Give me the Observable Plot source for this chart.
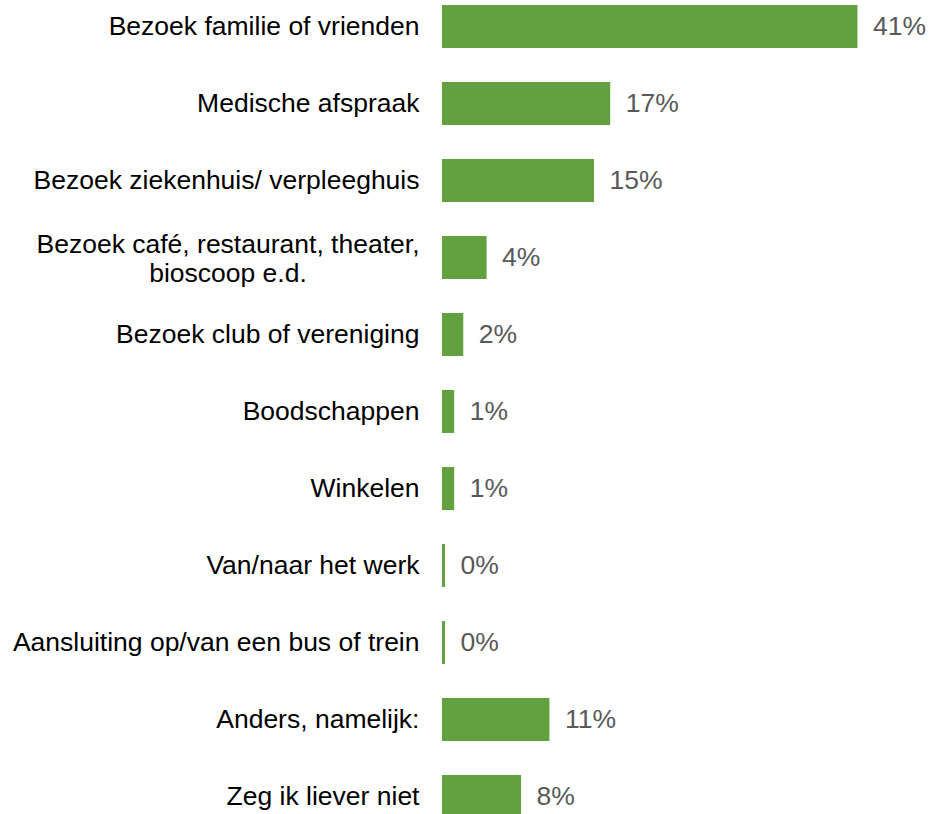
<!DOCTYPE html>
<html>
<head>
<meta charset="utf-8">
<script src="https://cdn.jsdelivr.net/npm/d3@7"></script>
<script src="https://cdn.jsdelivr.net/npm/@observablehq/plot@0.6"></script>
<style>
  html, body { margin: 0; padding: 0; background: #fff; overflow: hidden; }
  #chart svg { display: block; }
</style>
</head>
<body>
<div id="chart"></div>
<script>
const categories = [
  "Bezoek familie of vrienden",
  "Medische afspraak",
  "Bezoek ziekenhuis/ verpleeghuis",
  "Bezoek café, restaurant, theater,\nbioscoop e.d.",
  "Bezoek club of vereniging",
  "Boodschappen",
  "Winkelen",
  "Van/naar het werk",
  "Aansluiting op/van een bus of trein",
  "Anders, namelijk:",
  "Zeg ik liever niet"
];
const values = [41.0, 16.6, 15.0, 4.4, 2.1, 1.2, 1.2, 0.3, 0.3, 10.6, 7.8];

const data = categories.map((c, i) => ({cat: c, value: values[i]}));

const FONT = "'Liberation Sans', Arial, sans-serif";
const FS = 26.5;

// measure the longest line of multi-line labels so they can be centred as a block
const canvas = document.createElement("canvas");
const ctx = canvas.getContext("2d");
ctx.font = `${FS}px ${FONT}`;
const maxLineWidth = s => Math.max(...s.split("\n").map(l => ctx.measureText(l).width));

const single = data.filter(d => !d.cat.includes("\n"));
const multi = data.filter(d => d.cat.includes("\n"));
const labelGap = 23;

const marks = [
  Plot.barX(data, {x: "value", y: "cat", fill: "#63A03F"}),
  Plot.text(data, {
    x: "value", y: "cat",
    text: d => Math.round(d.value) + "%",
    textAnchor: "start", dx: 15,
    fill: "#595959", fontSize: FS, fontFamily: FONT
  }),
  Plot.text(single, {
    y: "cat", frameAnchor: "left", text: "cat",
    textAnchor: "end", dx: -labelGap,
    fill: "#000", fontSize: FS, fontFamily: FONT
  })
];
for (const d of multi) {
  marks.push(Plot.text([d], {
    y: "cat", frameAnchor: "left", text: "cat",
    textAnchor: "middle", dx: -labelGap - maxLineWidth(d.cat) / 2,
    lineHeight: 1.12,
    fill: "#000", fontSize: FS, fontFamily: FONT
  }));
}

const chart = Plot.plot({
  width: 930,
  height: 821,
  marginLeft: 442,
  marginRight: 32,
  marginTop: 3,
  marginBottom: 0,
  style: {fontFamily: FONT, background: "#fff"},
  x: {domain: [0, 45], axis: null},
  y: {domain: categories, paddingInner: 0.44, paddingOuter: 0, axis: null},
  marks
});
document.getElementById("chart").append(chart);
</script>
</body>
</html>
